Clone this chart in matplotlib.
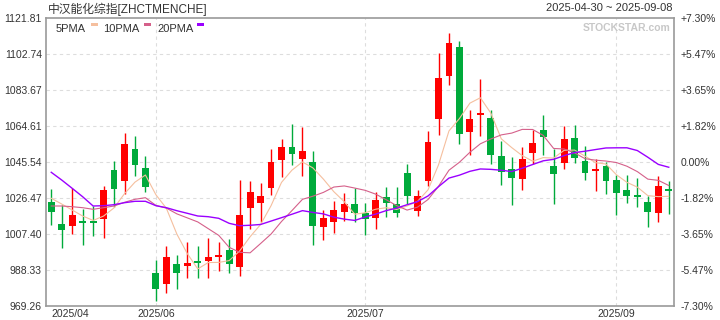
import numpy as np
import pandas as pd
import matplotlib
matplotlib.use("Agg")
import matplotlib.pyplot as plt
from matplotlib.patches import Rectangle

plt.rcParams['font.family'] = ['Liberation Sans', 'Noto Sans CJK SC', 'DejaVu Sans']

title = "中汉能化综指[ZHCTMENCHE]"
date_range = "2025-04-30 ~ 2025-09-08"

# daily OHLC (60 sessions)
opens = [1024.35, 1012.69, 1011.63, 1013.8, 1014.44, 1015.34, 1041.30, 1035.63, 1052.42, 1042.36,
         986.74, 981.07, 991.51, 990.61, 992.57, 993.10, 995.37, 998.92, 990.08, 1021.33,
         1023.98, 1031.92, 1046.59, 1053.48, 1047.12, 1045.54, 1011.26, 1013.91, 1019.21, 1023.29,
         1018.52, 1016.03, 1026.84, 1023.29, 1039.71, 1019.74, 1035.63, 1068.47, 1091.25, 1106.45,
         1061.58, 1070.27, 1068.84, 1048.71, 1041.83, 1036.69, 1050.46, 1062.48, 1043.42, 1045.16,
         1058.25, 1046.06, 1040.93, 1043.42, 1036.00, 1030.70, 1027.15, 1024.35, 1018.68, 1030.54]
highs = [1031.07, 1022.76, 1031.92, 1020.64, 1022.23, 1032.82, 1046.06, 1061.05, 1059.31, 1048.71,
         993.62, 1001.20, 996.27, 1003.16, 1001.04, 1005.44, 1003.00, 1004.59, 1036.00, 1035.47,
         1034.41, 1052.42, 1057.56, 1065.66, 1064.23, 1051.36, 1020.11, 1024.88, 1029.11, 1031.60,
         1023.98, 1029.49, 1032.29, 1032.29, 1044.48, 1030.70, 1061.96, 1103.43, 1113.86, 1109.63,
         1073.08, 1089.50, 1073.08, 1056.66, 1048.34, 1053.48, 1062.33, 1070.43, 1052.58, 1064.60,
         1064.87, 1053.85, 1047.12, 1045.69, 1038.65, 1038.49, 1036.90, 1027.53, 1038.12, 1035.47]
lows = [1012.16, 1000.14, 1007.40, 1001.57, 1006.50, 1005.44, 1021.54, 1028.43, 1038.12, 1029.80,
        971.91, 976.30, 978.42, 984.25, 984.25, 984.25, 987.80, 986.90, 985.15, 1010.20,
        1013.91, 1028.05, 1037.59, 1043.95, 1038.12, 1001.57, 1004.22, 1008.08, 1014.44, 1013.91,
        1006.87, 1009.89, 1016.56, 1016.24, 1023.29, 1017.09, 1032.98, 1059.84, 1086.48, 1055.23,
        1049.40, 1059.31, 1044.48, 1033.51, 1022.76, 1030.54, 1044.63, 1049.24, 1023.45, 1041.99,
        1045.16, 1036.00, 1030.33, 1028.74, 1017.46, 1023.66, 1021.86, 1011.26, 1013.91, 1017.83]
closes = [1019.21, 1009.52, 1017.46, 1013.4, 1013.38, 1030.70, 1031.23, 1055.07, 1043.95, 1032.29,
          978.42, 995.37, 986.90, 992.04, 991.88, 995.21, 995.74, 991.67, 1017.46, 1029.64,
          1027.53, 1045.53, 1053.48, 1049.93, 1051.36, 1011.79, 1015.87, 1020.11, 1023.29, 1018.36,
          1015.50, 1025.41, 1023.98, 1018.68, 1027.68, 1027.53, 1056.13, 1090.03, 1108.57, 1060.52,
          1068.31, 1070.4, 1049.40, 1040.40, 1037.22, 1047.12, 1055.60, 1058.94, 1039.18, 1057.72,
          1047.81, 1039.55, 1041.67, 1035.63, 1029.27, 1027.68, 1026.9, 1019.21, 1032.82, 1030.3]

# MA values before the window is full (they use sessions before 04-30)
ma5_head = [1026.31, 1023.29, 1020.11, 1016.93]
ma10_head = [1022.23, 1022.23, 1021.86, 1021.33, 1020.48, 1021.33, 1022.23, 1024.19, 1025.78]
ma20_head = [1040.08, 1035.99, 1031.60, 1027.15, 1022.23, 1022.39, 1022.92, 1023.98, 1024.72, 1024.72,
             1022.39, 1021.33, 1019.74, 1018.36, 1016.93, 1016.56, 1015.71, 1013.06, 1011.79]

month_idx = [0, 10, 30, 54]
month_labels = ["2025/04", "2025/06", "2025/07", "2025/09"]

yticks = [969.26, 988.33, 1007.40, 1026.47, 1045.54, 1064.61, 1083.67, 1102.74, 1121.81]
pct_labels = ["-7.30%", "-5.47%", "-3.65%", "-1.82%", "0.00%", "+1.82%", "+3.65%", "+5.47%", "+7.30%"]

RED = "#ff0000"
GREEN = "#00aa3b"
C5 = "#f5bf9e"
C10 = "#d5608a"
C20 = "#9a00ff"
TXT = "#333333"


def moving_avg(head, n):
    ma = pd.Series(closes).rolling(n).mean().values
    ma[:len(head)] = head
    return ma


W, H = 720, 320
fig = plt.figure(figsize=(W / 100, H / 100), dpi=100)
ax = fig.add_axes([46 / W, 1 - 306 / H, 628 / W, 288 / H])

x = np.arange(len(closes))
o = np.array(opens)
c = np.array(closes)
colors = [RED if cc > oo else GREEN for oo, cc in zip(o, c)]

ax.vlines(x, lows, highs, colors=colors, linewidth=1.0, zorder=3)
body_lo = np.minimum(o, c)
body_h = np.maximum(np.abs(c - o), 1.0)
ax.bar(x, body_h, bottom=body_lo, width=0.66, color=colors, linewidth=0, zorder=3)

ax.plot(x, moving_avg(ma5_head, 5), color=C5, lw=0.8, zorder=4)
ax.plot(x, moving_avg(ma10_head, 10), color=C10, lw=0.8, zorder=4)
ax.plot(x, moving_avg(ma20_head, 20), color=C20, lw=1.0, zorder=4)

ax.set_xlim(-0.5, len(closes) - 0.5)
ax.set_ylim(yticks[0], yticks[-1])
ax.set_yticks(yticks)
ax.set_yticklabels(["%.2f" % v for v in yticks])
ax.set_xticks(month_idx)
ax.set_xticklabels(month_labels)
ax.tick_params(length=0, labelsize=7.5, colors=TXT, pad=3)
ax.tick_params(axis='x', pad=2)
ax.get_xticklabels()[0].set_horizontalalignment('left')
ax.get_xticklabels()[0].set_x(-0.5)

for v in yticks[1:-1]:
    ax.axhline(v, color="#dddddd", lw=0.8, ls=(0, (3, 3)), zorder=1)
for i in month_idx[1:]:
    ax.axvline(i, color="#dddddd", lw=0.8, ls=(0, (3, 3)), zorder=1)

for s in ax.spines.values():
    s.set_color("#9a9a9a")
    s.set_linewidth(1.2)

ax2 = ax.twinx()
ax2.set_ylim(ax.get_ylim())
ax2.set_yticks(yticks)
ax2.set_yticklabels(pct_labels)
ax2.tick_params(length=0, labelsize=7.5, colors=TXT, pad=5)
for s in ax2.spines.values():
    s.set_visible(False)

# header texts
fig.text(48 / W, 1 - 9 / H, title, fontsize=8.5, color=TXT, va='center', ha='left')
fig.text(672 / W, 1 - 8 / H, date_range, fontsize=8, color=TXT, va='center', ha='right')
fig.text(670 / W, 1 - 28 / H, "STOCKSTAR.com", fontsize=7.5, color="#c8c8c8",
         fontweight='bold', va='center', ha='right')

# legend
for lx, bx, name, col in [(56, 91, "5PMA", C5), (103, 144, "10PMA", C10), (157, 197, "20PMA", C20)]:
    fig.text(lx / W, 1 - 29 / H, name, fontsize=8, color=TXT, va='center', ha='left')
    fig.add_artist(Rectangle((bx / W, 1 - 26 / H), 7 / W, 3 / H, transform=fig.transFigure,
                             color=col, lw=0))

fig.savefig("out.png", dpi=100)
